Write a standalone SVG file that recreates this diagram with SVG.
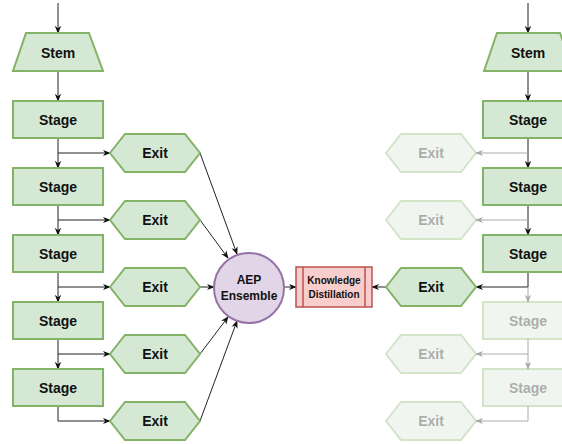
<svg xmlns="http://www.w3.org/2000/svg" width="562" height="444" viewBox="0 0 562 444">
<defs>
<style>
.g{fill:#d5e8d4;stroke:#82b366;stroke-width:2}
.t{font-family:"Liberation Sans",Arial,sans-serif;font-weight:bold;font-size:14px;fill:#111;text-anchor:middle;dominant-baseline:central}
.c{fill:none;stroke:#222;stroke-width:1}
.cf{fill:none;stroke:#aaa;stroke-width:1}
.fade{opacity:0.35}
</style>
<marker id="a" viewBox="0 0 10 10" refX="9" refY="5" markerWidth="8" markerHeight="8" orient="auto" markerUnits="userSpaceOnUse"><path d="M0,1 L10,5 L0,9 L3,5 Z" fill="#111"/></marker>
<marker id="af" viewBox="0 0 10 10" refX="9" refY="5" markerWidth="8" markerHeight="8" orient="auto" markerUnits="userSpaceOnUse"><path d="M0,1 L10,5 L0,9 L3,5 Z" fill="#aaa"/></marker>
</defs>
<g id="connectors">
<path class="c" d="M58,3 V33" marker-end="url(#a)"/>
<path class="c" d="M58,71 V101" marker-end="url(#a)"/>
<path class="c" d="M58,138 V168" marker-end="url(#a)"/>
<path class="c" d="M58,205 V235" marker-end="url(#a)"/>
<path class="c" d="M58,272 V302" marker-end="url(#a)"/>
<path class="c" d="M58,339 V369" marker-end="url(#a)"/>
<path class="c" d="M58,153 H110" marker-end="url(#a)"/>
<path class="c" d="M58,220 H110" marker-end="url(#a)"/>
<path class="c" d="M58,287 H110" marker-end="url(#a)"/>
<path class="c" d="M58,354 H110" marker-end="url(#a)"/>
<path class="c" d="M58,406 V421 H110" marker-end="url(#a)"/>
<path class="c" d="M200,153 L237,254" marker-end="url(#a)"/>
<path class="c" d="M200,220 L228,258" marker-end="url(#a)"/>
<path class="c" d="M200,287 H214" marker-end="url(#a)"/>
<path class="c" d="M200,354 L228,317" marker-end="url(#a)"/>
<path class="c" d="M200,421 L237,321" marker-end="url(#a)"/>
<path class="c" d="M284,287 H296" marker-end="url(#a)"/>
<path class="c" d="M386,287 H372" marker-end="url(#a)"/>
<path class="c" d="M528,3 V33" marker-end="url(#a)"/>
<path class="c" d="M528,71 V101" marker-end="url(#a)"/>
<path class="c" d="M528,138 V168" marker-end="url(#a)"/>
<path class="c" d="M528,205 V235" marker-end="url(#a)"/>
<path class="c" d="M528,272 V287 H476" marker-end="url(#a)"/>
<path class="cf" d="M528,153 H476" marker-end="url(#af)"/>
<path class="cf" d="M528,220 H476" marker-end="url(#af)"/>
<path class="cf" d="M528,287 V302" marker-end="url(#af)"/>
<path class="cf" d="M528,339 V369" marker-end="url(#af)"/>
<path class="cf" d="M528,354 H476" marker-end="url(#af)"/>
<path class="cf" d="M528,406 V421 H476" marker-end="url(#af)"/>
</g>
<g id="stem-l"><path class="g" d="M26,33 H89 L103,71 H13 Z"/><text class="t" x="58" y="53">Stem</text></g>
<g id="stage-l1"><rect class="g" x="13" y="101" width="90" height="37"/><text class="t" x="58" y="120">Stage</text></g>
<g id="stage-l2"><rect class="g" x="13" y="168" width="90" height="37"/><text class="t" x="58" y="187">Stage</text></g>
<g id="stage-l3"><rect class="g" x="13" y="235" width="90" height="37"/><text class="t" x="58" y="254">Stage</text></g>
<g id="stage-l4"><rect class="g" x="13" y="302" width="90" height="37"/><text class="t" x="58" y="321">Stage</text></g>
<g id="stage-l5"><rect class="g" x="13" y="369" width="90" height="37"/><text class="t" x="58" y="388">Stage</text></g>
<g id="exit-l1"><path class="g" d="M110,153 L125,134 H185 L200,153 L185,172 H125 Z"/><text class="t" x="155" y="153">Exit</text></g>
<g id="exit-l2"><path class="g" d="M110,220 L125,201 H185 L200,220 L185,239 H125 Z"/><text class="t" x="155" y="220">Exit</text></g>
<g id="exit-l3"><path class="g" d="M110,287 L125,268 H185 L200,287 L185,306 H125 Z"/><text class="t" x="155" y="287">Exit</text></g>
<g id="exit-l4"><path class="g" d="M110,354 L125,335 H185 L200,354 L185,373 H125 Z"/><text class="t" x="155" y="354">Exit</text></g>
<g id="exit-l5"><path class="g" d="M110,421 L125,402 H185 L200,421 L185,440 H125 Z"/><text class="t" x="155" y="421">Exit</text></g>
<g id="aep"><circle cx="249" cy="288" r="35" fill="#e1d5e7" stroke="#9673a6" stroke-width="2"/><text class="t" x="249" y="280" style="font-size:12px">AEP</text><text class="t" x="249" y="296" style="font-size:12px">Ensemble</text></g>
<g id="kd"><rect x="296" y="267" width="76" height="40" fill="#f8cecc" stroke="#b85450" stroke-width="1.5"/><path d="M303,267 V307 M365,267 V307" stroke="#b85450" stroke-width="1.5"/><text class="t" x="334" y="280" style="font-size:10px">Knowledge</text><text class="t" x="334" y="294" style="font-size:10px">Distillation</text></g>
<g id="stem-r"><path class="g" d="M497,33 H560 L574,71 H484 Z"/><text class="t" x="528" y="53">Stem</text></g>
<g id="stage-r1"><rect class="g" x="483" y="101" width="90" height="37"/><text class="t" x="528" y="120">Stage</text></g>
<g id="stage-r2"><rect class="g" x="483" y="168" width="90" height="37"/><text class="t" x="528" y="187">Stage</text></g>
<g id="stage-r3"><rect class="g" x="483" y="235" width="90" height="37"/><text class="t" x="528" y="254">Stage</text></g>
<g id="stage-r4" class="fade"><rect class="g" x="483" y="302" width="90" height="37"/><text class="t" x="528" y="321">Stage</text></g>
<g id="stage-r5" class="fade"><rect class="g" x="483" y="369" width="90" height="37"/><text class="t" x="528" y="388">Stage</text></g>
<g id="exit-r1" class="fade"><path class="g" d="M386,153 L401,134 H461 L476,153 L461,172 H401 Z"/><text class="t" x="431" y="153">Exit</text></g>
<g id="exit-r2" class="fade"><path class="g" d="M386,220 L401,201 H461 L476,220 L461,239 H401 Z"/><text class="t" x="431" y="220">Exit</text></g>
<g id="exit-r3"><path class="g" d="M386,287 L401,268 H461 L476,287 L461,306 H401 Z"/><text class="t" x="431" y="287">Exit</text></g>
<g id="exit-r4" class="fade"><path class="g" d="M386,354 L401,335 H461 L476,354 L461,373 H401 Z"/><text class="t" x="431" y="354">Exit</text></g>
<g id="exit-r5" class="fade"><path class="g" d="M386,421 L401,402 H461 L476,421 L461,440 H401 Z"/><text class="t" x="431" y="421">Exit</text></g>
</svg>
